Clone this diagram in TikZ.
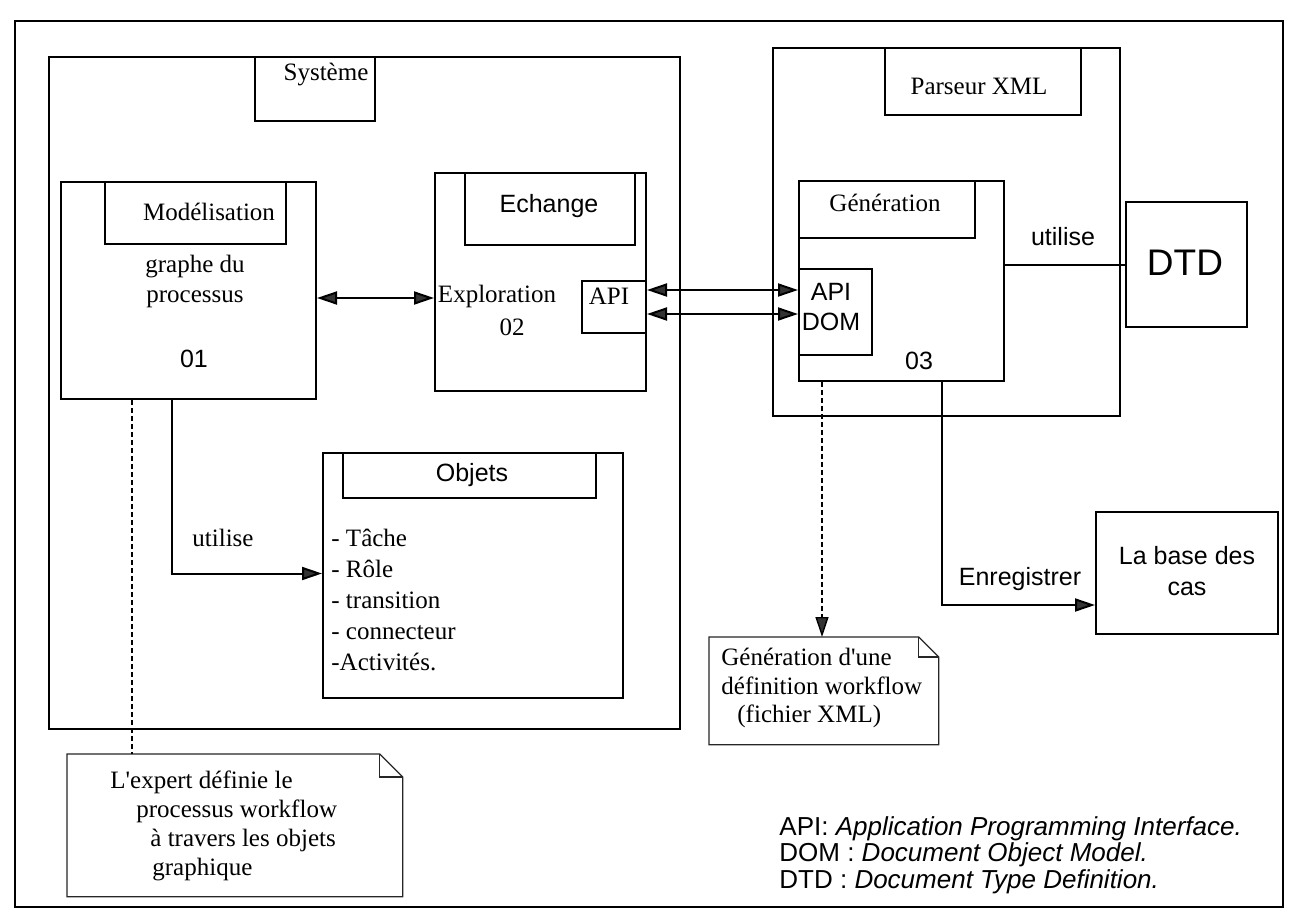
\documentclass[tikz,border=0pt]{standalone}
\usepackage{fontspec}
\setmainfont{Liberation Serif}[Ligatures=TeXOff]
\setsansfont{Liberation Sans}[Ligatures=TeXOff]
\usetikzlibrary{arrows.meta}
\begin{document}
\begin{tikzpicture}[x=0.5pt,y=-0.5pt,
  frame/.style={draw, line width=1pt, inner sep=0pt, anchor=north west},
  hole/.style={inner sep=0pt, anchor=north west},
  rm/.style={font=\fontsize{12.5pt}{15pt}\selectfont, inner sep=0pt},
  sf/.style={font=\sffamily\fontsize{12.5pt}{15pt}\selectfont, inner sep=0pt},
  link/.style={line width=1pt},
  tip/.style={-{Triangle[length=10pt,width=6.5pt,fill=black!80]}},
  dtip/.style={{Triangle[length=10pt,width=6.5pt,fill=black!80]}-{Triangle[length=10pt,width=6.5pt,fill=black!80]}},
  dots/.style={line width=0.7pt, dash pattern=on 2.5pt off 1.5pt},
  notefold/.style={line width=0.6pt, draw=black!85}
]
\fill[white] (0,0) rectangle (1295,920);
\useasboundingbox (0,0) rectangle (1295,920);

% outer frame and the system package
\node[frame, minimum width=634pt, minimum height=443pt] (page) at (14,20) {};
\node[frame, minimum width=315.5pt, minimum height=336pt] (sys) at (48,56) {};
\node[frame, minimum width=60pt, minimum height=32pt] (syslab) at (254,56) {};
\node[rm] (systxt) at (326,75) {Système};

% modelling component
\node[frame, minimum width=127.5pt, minimum height=108.5pt] (mod) at (60,181) {};
\node[frame, minimum width=90.5pt, minimum height=31pt] (modlab) at (104,181) {};
\node[rm] (modtxt) at (209,212) {Modélisation};
\node[rm, align=center] (graphe) at (195,281) {graphe du\\processus};
\node[sf] (n01) at (194,359) {01};

% exchange component
\node[frame, minimum width=105.5pt, minimum height=109pt] (ech) at (434,172) {};
\node[frame, minimum width=85pt, minimum height=36pt] (echlab) at (464,172) {};
\node[sf] (echtxt) at (549,206) {Echange};
\node[frame, minimum width=32pt, minimum height=26pt] (apiE) at (581,280) {};
\node[rm] (apiEtxt) at (609,296) {API};
\node[rm] (explo) at (497,296) {Exploration};
\node[rm] (n02) at (512,327) {02};

% XML parser
\node[frame, minimum width=173.5pt, minimum height=184pt] (pars) at (772,47) {};
\node[frame, minimum width=98pt, minimum height=33.5pt] (parslab) at (884,47) {};
\node[rm] (parstxt) at (979,86) {Parseur XML};

\node[frame, minimum width=102.5pt, minimum height=100pt] (gen) at (798,180) {};
\node[frame, minimum width=88pt, minimum height=28.5pt] (genlab) at (798,180) {};
\node[rm] (gentxt) at (885,203) {Génération};
\node[frame, minimum width=36.5pt, minimum height=43pt] (apid) at (798,268) {};
\node[sf, align=center] (apidtxt) at (831,307) {API\\DOM};
\node[sf] (n03) at (919,361) {03};

% DTD
\node[frame, minimum width=60.5pt, minimum height=62.5pt] (dtd) at (1125,201) {};
\node[inner sep=0pt, font=\sffamily\fontsize{18.5pt}{22pt}\selectfont] (dtdtxt) at (1185,263) {DTD};
\node[sf] (util2) at (1063,237) {utilise};

% graphical objects
\node[frame, minimum width=150pt, minimum height=122.5pt] (obj) at (322,452) {};
\node[frame, minimum width=126.5pt, minimum height=22.5pt] (objlab) at (342,452) {};
\node[sf] (objtxt) at (472,475) {Objets};
\node[inner sep=0pt, anchor=west, align=left, font=\fontsize{12.5pt}{15.5pt}\selectfont] (objlist) at (331,600)
  {- Tâche\\- Rôle\\- transition\\- connecteur\\-Activités.};
\node[rm] (util1) at (223,538) {utilise};

% case base
\node[frame, minimum width=91pt, minimum height=61pt] (base) at (1095,511) {};
\node[inner sep=0pt, align=center, font=\sffamily\fontsize{12.5pt}{15.5pt}\selectfont] (basetxt) at (1187,571) {La base des\\cas};
\node[sf] (enr) at (1020,579) {Enregistrer};

% notes with a folded corner
\node[hole, minimum width=167.5pt, minimum height=71pt] (note1) at (67,754) {};
\draw[notefold] (note1.north west) -- ([xshift=-11.5pt]note1.north east) -- ([yshift=-11.5pt]note1.north east)
  -- (note1.south east) -- (note1.south west) -- cycle;
\draw[notefold] ([xshift=-11.5pt]note1.north east) |- ([yshift=-11.5pt]note1.north east);
\node[inner sep=0pt, anchor=west, align=left, font=\fontsize{12.5pt}{14.5pt}\selectfont] (note1txt) at (110,825.5)
  {L'expert définie le\\\hspace*{13pt}processus workflow\\\hspace*{20pt}à travers les objets\\\hspace*{21pt}graphique};

\node[hole, minimum width=114.5pt, minimum height=53.5pt] (note2) at (709,637) {};
\draw[notefold] (note2.north west) -- ([xshift=-10pt]note2.north east) -- ([yshift=-10pt]note2.north east)
  -- (note2.south east) -- (note2.south west) -- cycle;
\draw[notefold] ([xshift=-10pt]note2.north east) |- ([yshift=-10pt]note2.north east);
\node[inner sep=0pt, anchor=west, align=left, font=\fontsize{12.5pt}{14.25pt}\selectfont] (note2txt) at (721,688)
  {Génération d'une\\définition workflow\\\hspace*{8pt}(fichier XML)};

% legend
\node[inner sep=0pt, anchor=west, align=left, font=\sffamily\fontsize{13pt}{13.25pt}\selectfont] (legend) at (779,855)
  {API: \textit{Application Programming Interface.}\\DOM : \textit{Document Object Model.}\\DTD : \textit{Document Type Definition.}};

% connectors
\draw[link, dtip] ([yshift=-3.75pt]mod.east) -- ([yshift=-8pt]ech.west);
\coordinate (u1) at ([yshift=8.5pt]apiE.east);
\coordinate (u2) at ([yshift=-3.5pt]apiE.east);
\draw[link, dtip] (u1) -- (u1 -| apid.west);
\draw[link, dtip] (u2) -- (u2 -| apid.west);
\coordinate (g1) at ([yshift=8pt]gen.east);
\draw[link] (g1) -- (g1 -| dtd.west);
\coordinate (d1) at ([xshift=-39.75pt]gen.south);
\draw[dots, tip] (d1) -- (d1 |- note2.north);
\coordinate (e1) at ([xshift=20.25pt]gen.south);
\coordinate (e2) at ([yshift=-16pt]base.west);
\draw[link, tip] (e1) |- (e2);
\coordinate (m1) at ([xshift=-8.25pt]mod.south);
\coordinate (o1) at ([yshift=1pt]obj.west);
\draw[link, tip] (m1) |- (o1);
\coordinate (m2) at ([xshift=-28.25pt]mod.south);
\draw[dots] (m2) -- (m2 |- note1.north);
\end{tikzpicture}
\end{document}
